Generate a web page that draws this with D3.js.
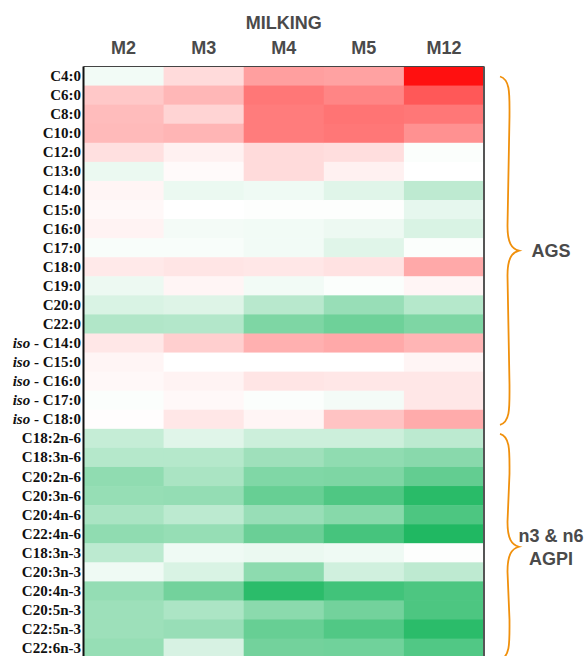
<!DOCTYPE html>
<html>
<head>
<meta charset="utf-8">
<script src="https://cdn.jsdelivr.net/npm/d3@7"></script>
<style>
  html, body { margin: 0; padding: 0; background: #fff; }
  svg { display: block; }
</style>
</head>
<body>
<script>
// heatmap of fatty acid change by milking, red = up, green = down

var columns = ["M2", "M3", "M4", "M5", "M12"];

var acids = [
  "C4:0", "C6:0", "C8:0", "C10:0", "C12:0", "C13:0", "C14:0", "C15:0",
  "C16:0", "C17:0", "C18:0", "C19:0", "C20:0", "C22:0",
  "iso - C14:0", "iso - C15:0", "iso - C16:0", "iso - C17:0", "iso - C18:0",
  "C18:2n-6", "C18:3n-6", "C20:2n-6", "C20:3n-6", "C20:4n-6", "C22:4n-6",
  "C18:3n-3", "C20:3n-3", "C20:4n-3", "C20:5n-3", "C22:5n-3", "C22:6n-3"
];

// one array per milking, same order as acids (-1 green ... 0 white ... 1 red)
var valM2  = [-0.06, 0.23, 0.28, 0.29, 0.13, -0.09, 0.04, 0.03, 0.05, -0.03, 0.09, -0.08, -0.17, -0.35,
              0.10, 0.04, 0.03, -0.02, 0.01,
              -0.26, -0.33, -0.50, -0.47, -0.38, -0.50, -0.30, -0.07, -0.48, -0.44, -0.44, -0.47];
var valM3  = [0.15, 0.30, 0.18, 0.31, 0.06, 0.02, -0.09, 0.00, -0.05, -0.03, 0.11, 0.04, -0.15, -0.34,
              0.20, 0.00, 0.05, 0.03, 0.10,
              -0.14, -0.33, -0.38, -0.48, -0.30, -0.47, -0.07, -0.17, -0.63, -0.37, -0.46, -0.18];
var valM4  = [0.40, 0.57, 0.55, 0.55, 0.15, 0.15, -0.07, -0.01, -0.06, -0.06, 0.10, -0.06, -0.32, -0.58,
              0.33, 0.00, 0.11, -0.02, 0.04,
              -0.23, -0.43, -0.57, -0.68, -0.46, -0.67, -0.09, -0.51, -0.95, -0.52, -0.68, -0.63];
var valM5  = [0.39, 0.51, 0.58, 0.57, 0.14, 0.06, -0.14, -0.01, -0.08, -0.14, 0.12, -0.02, -0.46, -0.65,
              0.36, 0.00, 0.10, -0.05, 0.25,
              -0.23, -0.50, -0.58, -0.79, -0.54, -0.83, -0.07, -0.21, -0.85, -0.63, -0.78, -0.64];
var valM12 = [1.00, 0.70, 0.57, 0.46, -0.02, 0.00, -0.29, -0.11, -0.17, -0.02, 0.36, 0.04, -0.33, -0.58,
              0.31, 0.04, 0.10, 0.10, 0.35,
              -0.30, -0.53, -0.70, -0.96, -0.80, -1.00, -0.01, -0.29, -0.80, -0.80, -0.95, -0.78];

var groupNames = [["AGS"], ["n3 & n6", "AGPI"]];
var groupFirst = ["C4:0", "C18:2n-6"];
var groupLast  = ["iso - C18:0", "C22:6n-3"];

var width = 584, height = 656;
var gridL = 83.5, gridR = 484, gridT = 66.5, rowH = 19.07;

var series = [valM2, valM3, valM4, valM5, valM12];
var cells = [];
columns.forEach(function(c, j) {
  acids.forEach(function(a, i) {
    cells.push({col: c, acid: a, v: series[j][i]});
  });
});

var svg = d3.select("body").append("svg")
    .attr("width", width)
    .attr("height", height);

var x = d3.scaleBand().domain(columns).range([gridL, gridR]);
var y = d3.scaleBand().domain(acids).range([gridT, gridT + rowH * acids.length]);

var color = d3.scaleLinear()
    .domain([-1, 0, 1])
    .range(["rgb(32,184,98)", "#ffffff", "rgb(255,16,16)"]);

svg.append("g")
  .selectAll("rect")
  .data(cells)
  .join("rect")
    .attr("x", function(d) { return x(d.col); })
    .attr("y", function(d) { return y(d.acid); })
    .attr("width", x.bandwidth() + 0.5)
    .attr("height", y.bandwidth() + 0.5)
    .attr("fill", function(d) { return color(d.v); });

// frame
svg.append("line")
    .attr("x1", gridL).attr("x2", gridR)
    .attr("y1", gridT).attr("y2", gridT)
    .attr("stroke", "#444").attr("stroke-width", 1.2);
svg.append("line")
    .attr("x1", gridL).attr("x2", gridL)
    .attr("y1", gridT).attr("y2", height)
    .attr("stroke", "#111").attr("stroke-width", 2);
svg.append("line")
    .attr("x1", gridR).attr("x2", gridR)
    .attr("y1", gridT).attr("y2", height)
    .attr("stroke", "#555").attr("stroke-width", 2);

// titles
svg.append("text")
    .attr("x", x("M4") + x.bandwidth() / 2)
    .attr("y", 29)
    .attr("text-anchor", "middle")
    .style("font", "bold 18px 'Liberation Sans', Arial, sans-serif")
    .attr("fill", "#4a4a4a")
    .text("MILKING");

svg.append("g")
  .selectAll("text")
  .data(columns)
  .join("text")
    .attr("x", function(d) { return x(d) + x.bandwidth() / 2; })
    .attr("y", 54)
    .attr("text-anchor", "middle")
    .style("font", "bold 18px 'Liberation Sans', Arial, sans-serif")
    .attr("fill", "#4a4a4a")
    .text(function(d) { return d; });

// row labels
var rowLab = svg.append("g")
  .selectAll("text")
  .data(acids)
  .join("text")
    .attr("x", gridL - 2.5)
    .attr("y", function(d) { return y(d) + y.bandwidth() / 2 + 5; })
    .attr("text-anchor", "end")
    .style("font", "bold 15px 'Liberation Serif', 'Times New Roman', serif")
    .attr("fill", "#111");

rowLab.each(function(d) {
  var t = d3.select(this);
  if (d.indexOf("iso") === 0) {
    t.append("tspan").style("font-style", "italic").text("iso");
    t.append("tspan").text(d.slice(3));
  } else {
    t.text(d);
  }
});

// braces
function brace(y0, y1) {
  var xe = 500, xm = 508.5, xt = 519, ym = (y0 + y1) / 2;
  return "M" + xe + "," + y0 +
    " C" + (xm + 2) + "," + (y0 + 3) + " " + (xm + 1) + "," + (y0 + 18) + " " + (xm + 1) + "," + (y0 + 40) +
    " L" + (xm - 1) + "," + (ym - 25) +
    " C" + (xm - 1) + "," + (ym - 8) + " " + (xm + 3) + "," + (ym - 2) + " " + xt + "," + ym +
    " C" + (xm + 3) + "," + (ym + 2) + " " + (xm - 1) + "," + (ym + 8) + " " + (xm - 1) + "," + (ym + 25) +
    " L" + (xm + 1) + "," + (y1 - 40) +
    " C" + (xm + 1) + "," + (y1 - 18) + " " + (xm + 2) + "," + (y1 - 3) + " " + xe + "," + y1;
}

groupNames.forEach(function(g, k) {
  var y0 = y(groupFirst[k]) + (k === 0 ? 10 : 5);
  var y1 = y(groupLast[k]) + y.bandwidth() - (k === 0 ? 4 : -2);
  svg.append("path")
      .attr("d", brace(y0, y1))
      .attr("fill", "none")
      .attr("stroke", "#f0900c")
      .attr("stroke-width", 1.8);

  var ym = (y0 + y1) / 2;
  var lab = svg.append("text")
      .attr("text-anchor", "middle")
      .style("font", "bold 18px 'Liberation Sans', Arial, sans-serif")
      .attr("fill", "#4a4a4a");
  g.forEach(function(line, n) {
    lab.append("tspan")
        .attr("x", 551)
        .attr("y", ym + 6.5 + (n - (g.length - 1) / 2) * 23)
        .text(line);
  });
});
</script>
</body>
</html>
